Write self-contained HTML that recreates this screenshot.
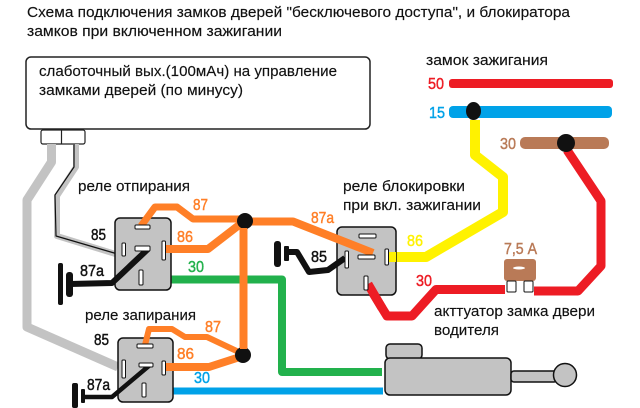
<!DOCTYPE html>
<html><head><meta charset="utf-8"><style>
html,body{margin:0;padding:0;background:#fff}
svg{display:block;filter:blur(.3px)}
text{font-family:"Liberation Sans",sans-serif;fill:#111}
.t{font-size:15px;stroke:#111;stroke-width:.15px}
.n{font-size:16px;stroke-width:.45px}
.w{fill:none;stroke-linejoin:round;stroke-linecap:butt}
.r{fill:#c3c3c3;stroke:#111;stroke-width:1.5}
.p{fill:#fff;stroke:#111;stroke-width:1}
</style></head><body>
<svg width="640" height="408" viewBox="0 0 640 408" xmlns="http://www.w3.org/2000/svg">
<rect width="640" height="408" fill="#fff"/>
<text class="t" x="27" y="17" textLength="543" lengthAdjust="spacingAndGlyphs">Схема подключения замков дверей "бесключевого доступа", и блокиратора</text>
<text class="t" x="27" y="36" textLength="255" lengthAdjust="spacingAndGlyphs">замков при включенном зажигании</text>

<rect x="26" y="57" width="344" height="72" rx="5" fill="#fff" stroke="#222" stroke-width="1.5"/>
<text class="t" x="39" y="76" textLength="298" lengthAdjust="spacingAndGlyphs">слаботочный вых.(100мАч) на управление</text>
<text class="t" x="39" y="95" textLength="204" lengthAdjust="spacingAndGlyphs">замками дверей (по минусу)</text>
<rect x="41" y="130" width="44" height="14" rx="2" fill="#fff" stroke="#222" stroke-width="1.2"/>
<line x1="61.5" y1="130" x2="61.5" y2="144" stroke="#222" stroke-width="1.2"/>

<!-- grey wires -->
<polyline class="w" points="51.5,144 51.5,162 27,200 27,327 118,367" stroke="#c3c3c3" stroke-width="9"/>
<polyline class="w" points="76,144 76,167 57,196 57,236 122,256" stroke="#c3c3c3" stroke-width="6"/>
<polyline class="w" points="74,144 74,167 55,195 56,236 121,255" stroke="#111" stroke-width="1.2"/>

<!-- ignition bars -->
<text class="t" x="426" y="65" textLength="122" lengthAdjust="spacingAndGlyphs">замок зажигания</text>
<rect x="449" y="79" width="164" height="9" rx="3" fill="#ed1c24"/>
<rect x="449" y="106" width="163" height="12" rx="4" fill="#00a2e8"/>
<rect x="520" y="137" width="89" height="12" rx="5" fill="#b97a57"/>
<text class="n" x="428" y="89" style="fill:#ed1c24;stroke:#ed1c24" textLength="16" lengthAdjust="spacingAndGlyphs">50</text>
<text class="n" x="429" y="118" style="fill:#00a2e8;stroke:#00a2e8" textLength="16" lengthAdjust="spacingAndGlyphs">15</text>
<text class="n" x="500" y="149" style="fill:#b97a57;stroke:#b97a57" textLength="16" lengthAdjust="spacingAndGlyphs">30</text>

<!-- green, blue -->
<polyline class="w" points="143,279.500 282,279.500 282,372 382,372" stroke="#22b14c" stroke-width="8"/>
<line x1="146" y1="391" x2="383" y2="391" stroke="#00a2e8" stroke-width="7"/>

<!-- yellow, red -->
<polyline class="w" points="388,257 426,257 503,212 503,177 475,155 475,120" stroke="#fff200" stroke-width="10"/>
<polyline class="w" points="368,285 387,316 412,316 436,289.500 505,289.500" stroke="#ed1c24" stroke-width="9"/>
<polyline class="w" points="534,291 578,291 601,266 601,201 567,150" stroke="#ed1c24" stroke-width="9"/>

<!-- relays -->
<rect class="r" x="115" y="218" width="56" height="72" rx="5"/>
<rect class="r" x="118" y="338" width="55" height="64" rx="5"/>
<rect class="r" x="337" y="227" width="59" height="68" rx="5"/>
<polyline class="w" points="368,284 382,308" stroke="#ed1c24" stroke-width="9"/>
<polyline class="w" points="389,257 396,257" stroke="#fff200" stroke-width="10"/>

<!-- black wires -->
<polyline class="w" points="148,249 112,283 70,284" stroke="#111" stroke-width="6"/>
<rect x="58" y="263" width="5" height="42" rx="2" fill="#111"/>
<rect x="66" y="272" width="7" height="25" rx="3" fill="#111"/>
<polyline class="w" points="150,365 112,397 82,397" stroke="#111" stroke-width="4.500"/>
<rect x="72" y="383" width="6" height="25" rx="2" fill="#111"/>
<rect x="81" y="389" width="4" height="14" rx="1" fill="#111"/>
<polyline class="w" points="288,252 297,252 309,272 328,270 345,258" stroke="#111" stroke-width="6"/>
<rect x="274" y="241" width="7" height="26" rx="3" fill="#111"/>
<rect x="284" y="246" width="5" height="15" rx="1" fill="#111"/>

<!-- orange wires -->
<polyline class="w" points="141,226 155,207 177,207 193,219 243,219" stroke="#ff7f27" stroke-width="7"/>
<polyline class="w" points="164,249 208,249 243,222" stroke="#ff7f27" stroke-width="8"/>
<polyline class="w" points="250,221.500 293,221.500 373,253" stroke="#ff7f27" stroke-width="8"/>
<line x1="243.500" y1="222" x2="243.500" y2="352" stroke="#ff7f27" stroke-width="8"/>
<polyline class="w" points="145,345 149,329 172,329 185,337 207,337 243,354" stroke="#ff7f27" stroke-width="6"/>
<polyline class="w" points="164,367 209,367 243,356" stroke="#ff7f27" stroke-width="8"/>

<!-- pins relay 1 -->
<rect class="p" x="135" y="225" width="15" height="4" rx="1"/>
<rect class="p" x="122" y="243" width="3.500" height="13" rx="1"/>
<rect class="p" x="135" y="246" width="15" height="5" rx="1"/>
<rect class="p" x="162" y="241" width="3.500" height="19" rx="1"/>
<rect class="p" x="139" y="270" width="4" height="15" rx="1"/>
<!-- pins relay 2 -->
<rect class="p" x="137" y="344" width="16" height="4" rx="1"/>
<rect class="p" x="122" y="360" width="3.500" height="18" rx="1"/>
<rect class="p" x="139" y="363" width="14" height="4" rx="1"/>
<rect class="p" x="162" y="361" width="3.500" height="14" rx="1"/>
<rect class="p" x="142" y="383" width="4" height="14" rx="1"/>
<!-- pins relay 3 -->
<rect class="p" x="359" y="234" width="17" height="4" rx="1"/>
<rect class="p" x="345" y="251" width="3.500" height="17" rx="1"/>
<rect class="p" x="358" y="255" width="17" height="4" rx="1"/>
<rect class="p" x="385" y="249" width="3.500" height="16" rx="1"/>
<rect class="p" x="364" y="276" width="4" height="14" rx="1"/>

<!-- dots -->
<circle cx="245" cy="221" r="8" fill="#111"/>
<circle cx="243" cy="355" r="8" fill="#111"/>
<rect x="240" y="228" width="7" height="2" fill="#ff7f27"/>
<rect x="240" y="347" width="7" height="2" fill="#ff7f27"/>
<ellipse cx="473.500" cy="111" rx="7.500" ry="9" fill="#111"/>
<circle cx="566" cy="143" r="9" fill="#111"/>

<!-- fuse -->
<rect x="504" y="259" width="32" height="22" rx="3" fill="#b97a57"/>
<ellipse cx="519" cy="268" rx="6" ry="1.500" fill="#fff"/>
<rect x="507" y="281" width="9" height="11" rx="1" fill="#fff" stroke="#111"/>
<rect x="524" y="281" width="9" height="11" rx="1" fill="#fff" stroke="#111"/>
<text class="n" x="504" y="254" style="fill:#b97a57;stroke:#b97a57" textLength="33" lengthAdjust="spacingAndGlyphs">7,5 А</text>

<!-- actuator -->
<rect class="r" x="386" y="344" width="36" height="15" rx="4"/>
<rect class="r" x="385" y="358" width="126" height="37" rx="5"/>
<rect class="r" x="511" y="371" width="46" height="11" rx="3"/>
<circle class="r" cx="565" cy="375" r="11.500"/>

<!-- labels -->
<text class="t" x="78" y="191" textLength="112" lengthAdjust="spacingAndGlyphs">реле отпирания</text>
<text class="t" x="343" y="191" textLength="122" lengthAdjust="spacingAndGlyphs">реле блокировки</text>
<text class="t" x="343" y="210" textLength="138" lengthAdjust="spacingAndGlyphs">при вкл. зажигании</text>
<text class="t" x="85" y="320" textLength="111" lengthAdjust="spacingAndGlyphs">реле запирания</text>
<text class="t" x="434" y="316" textLength="161" lengthAdjust="spacingAndGlyphs">акттуатор замка двери</text>
<text class="t" x="434" y="335" textLength="65" lengthAdjust="spacingAndGlyphs">водителя</text>

<text class="n" x="91" y="240" style="stroke:#111" textLength="15" lengthAdjust="spacingAndGlyphs">85</text>
<text class="n" x="80" y="276" style="stroke:#111" textLength="24" lengthAdjust="spacingAndGlyphs">87a</text>
<text class="n" x="94" y="345" style="stroke:#111" textLength="15" lengthAdjust="spacingAndGlyphs">85</text>
<text class="n" x="87" y="390" style="stroke:#111" textLength="23" lengthAdjust="spacingAndGlyphs">87a</text>
<text class="n" x="311" y="262" style="stroke:#111" textLength="16" lengthAdjust="spacingAndGlyphs">85</text>
<text class="n" x="193" y="210" style="fill:#ff7f27;stroke:#ff7f27" textLength="15" lengthAdjust="spacingAndGlyphs">87</text>
<text class="n" x="177" y="242" style="fill:#ff7f27;stroke:#ff7f27" textLength="16" lengthAdjust="spacingAndGlyphs">86</text>
<text class="n" x="205" y="332" style="fill:#ff7f27;stroke:#ff7f27" textLength="16" lengthAdjust="spacingAndGlyphs">87</text>
<text class="n" x="177" y="359" style="fill:#ff7f27;stroke:#ff7f27" textLength="17" lengthAdjust="spacingAndGlyphs">86</text>
<text class="n" x="311" y="223" style="fill:#ff7f27;stroke:#ff7f27" textLength="23" lengthAdjust="spacingAndGlyphs">87a</text>
<text class="n" x="188" y="272" style="fill:#22b14c;stroke:#22b14c" textLength="16" lengthAdjust="spacingAndGlyphs">30</text>
<text class="n" x="194" y="383" style="fill:#00a2e8;stroke:#00a2e8" textLength="16" lengthAdjust="spacingAndGlyphs">30</text>
<text class="n" x="407" y="246" style="fill:#fff200;stroke:#fff200" textLength="16" lengthAdjust="spacingAndGlyphs">86</text>
<text class="n" x="416" y="286" style="fill:#ed1c24;stroke:#ed1c24" textLength="16" lengthAdjust="spacingAndGlyphs">30</text>
</svg>
</body></html>
